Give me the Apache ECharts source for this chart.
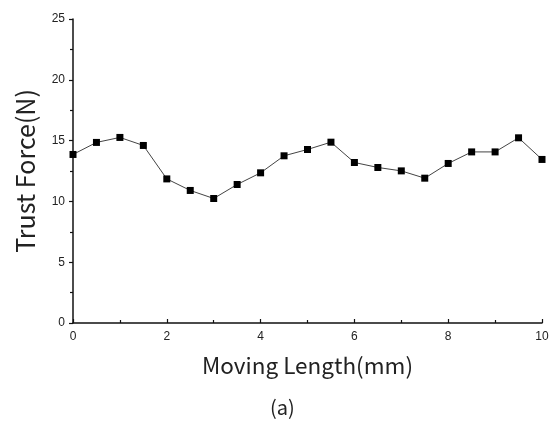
<!DOCTYPE html>
<html><head><meta charset="utf-8">
<script src="https://cdn.jsdelivr.net/npm/echarts@6/dist/echarts.min.js"></script>
<style>html,body{margin:0;padding:0;background:#fff}#c{width:560px;height:425px}</style>
</head><body><div id="c"></div>
<script>
const xValues = [0,0.5,1,1.5,2,2.5,3,3.5,4,4.5,5,5.5,6,6.5,7,7.5,8,8.5,9,9.5,10];
const forceValues = [13.86,14.85,15.26,14.6,11.85,10.9,10.24,11.39,12.35,13.75,14.27,14.87,13.2,12.79,12.51,11.91,13.12,14.07,14.07,15.23,13.45];
const xTitle = 'Moving Length(mm)';
const yTitle = 'Trust Force(N)';
const caption = '(a)';

const chart = echarts.init(document.getElementById('c'));
const titleFont = '"Noto Sans CJK KR", "Noto Sans", sans-serif';
const tickFont = '"Liberation Sans", Arial, sans-serif';
chart.setOption({
  animation: false,
  backgroundColor: '#fff',
  grid: {left: 73, right: 18, top: 19, bottom: 102},
  graphic: [{
    type: 'text', left: 270, top: 397,
    style: {text: caption, font: '20px ' + titleFont, fill: '#222'}
  }],
  xAxis: {
    type: 'value', min: 0, max: 10, interval: 2,
    name: xTitle, nameLocation: 'middle', nameGap: 31,
    nameTextStyle: {fontFamily: titleFont, fontSize: 22.5, color: '#222'},
    axisLine: {show: true, onZero: false, lineStyle: {color: '#111', width: 1.5}},
    axisTick: {show: true, inside: true, length: 4, lineStyle: {color: '#111', width: 1.2}},
    minorTick: {show: true, splitNumber: 2, length: 3, lineStyle: {color: '#111', width: 1.2}},
    axisLabel: {fontFamily: tickFont, fontSize: 12, color: '#222', margin: 8},
    splitLine: {show: false}
  },
  yAxis: {
    type: 'value', min: 0, max: 25, interval: 5,
    name: yTitle, nameLocation: 'middle', nameGap: 35,
    nameTextStyle: {fontFamily: titleFont, fontSize: 25, color: '#222'},
    axisLine: {show: true, onZero: false, lineStyle: {color: '#111', width: 1.5}},
    axisTick: {show: true, inside: false, length: 4, lineStyle: {color: '#111', width: 1.2}},
    minorTick: {show: true, splitNumber: 2, length: 3, lineStyle: {color: '#111', width: 1.2}},
    axisLabel: {fontFamily: tickFont, fontSize: 12, color: '#222', margin: 8},
    splitLine: {show: false}
  },
  series: [{
    type: 'line',
    data: xValues.map((x, i) => [x, forceValues[i]]),
    symbol: 'rect', symbolSize: 7,
    itemStyle: {color: '#000'},
    lineStyle: {color: '#444', width: 1},
    clip: false
  }]
});
</script></body></html>
